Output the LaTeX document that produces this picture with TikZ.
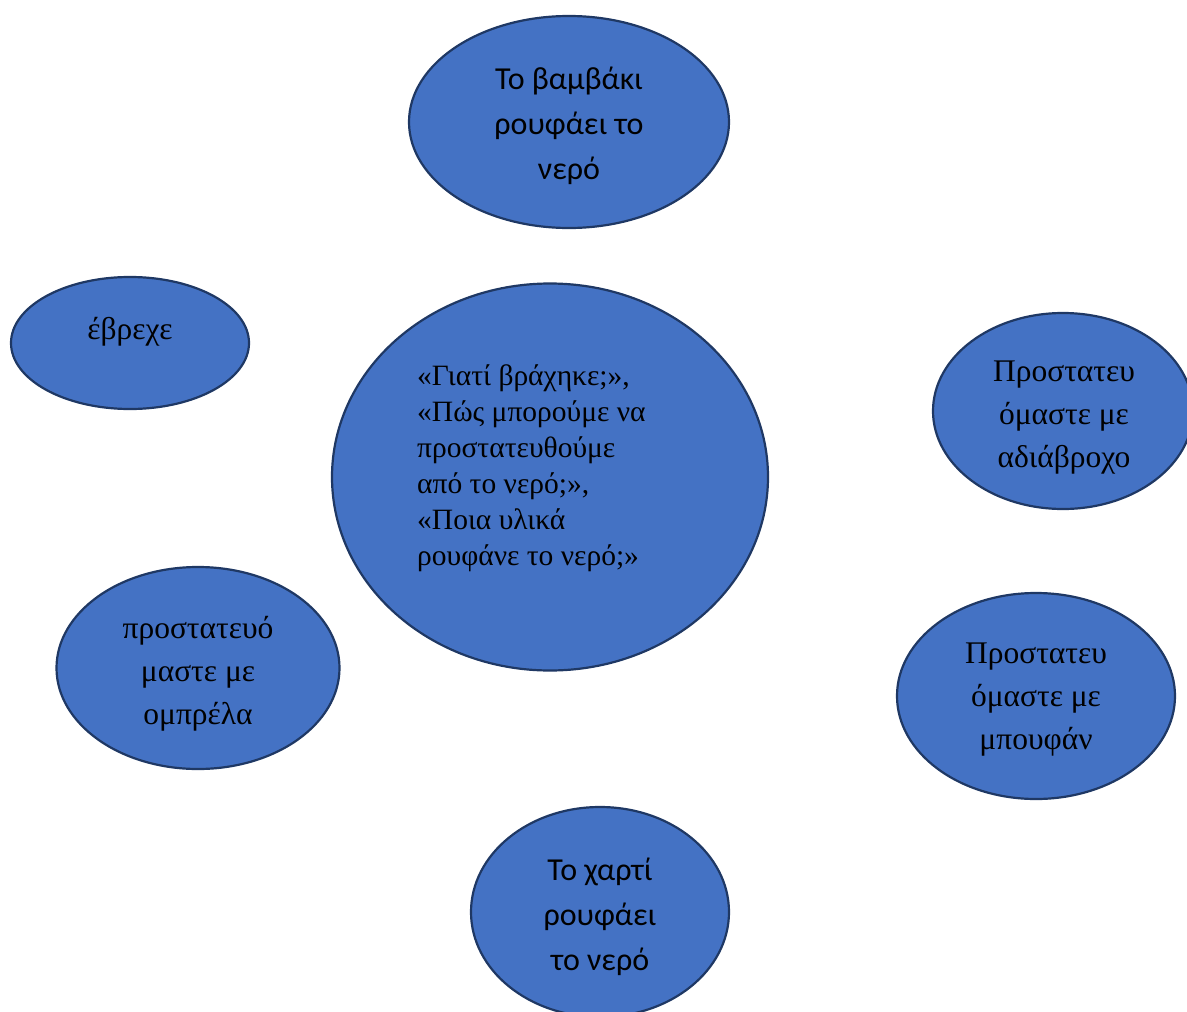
\documentclass[tikz,border=0pt]{standalone}
\usepackage{fontspec}
\newfontfamily\sansgr{Carlito}
\newfontfamily\serifgr{Liberation Serif}
\usetikzlibrary{shapes.geometric}
\definecolor{ellfill}{HTML}{4472C4}
\definecolor{elldraw}{HTML}{1F3864}
\tikzset{
  bubble/.style={ellipse, fill=ellfill, draw=elldraw, line width=2.2pt, inner sep=0pt},
  sanstext/.style={font=\sansgr\fontsize{32}{45}\selectfont, align=center, text=black, inner sep=0pt},
  seriftext/.style={font=\serifgr\fontsize{31.5}{43}\selectfont, align=center, text=black, inner sep=0pt},
  centertext/.style={font=\serifgr\fontsize{29.5}{36}\selectfont, align=left, text=black, inner sep=0pt}
}
\begin{document}
\begin{tikzpicture}[x=1pt,y=-1pt]
\useasboundingbox (0,0) rectangle (1187,1012);
\begin{scope}
\clip (0,0) rectangle (1187,1012);
\node[bubble, minimum width=320pt, minimum height=212pt] (top) at (569,122) {};
\node[bubble, minimum width=238pt, minimum height=132pt] (rain) at (130,343) {};
\node[bubble, minimum width=436pt, minimum height=387pt] (center) at (550,477) {};
\node[bubble, minimum width=260pt, minimum height=196pt] (rtop) at (1063,411) {};
\node[bubble, minimum width=283pt, minimum height=202pt] (lbot) at (198,668) {};
\node[bubble, minimum width=278pt, minimum height=206pt] (rbot) at (1036,696) {};
\node[bubble, minimum width=258pt, minimum height=210pt] (bot) at (600,912) {};
\end{scope}
\node[sanstext] (ttop) at (569,126) {Το βαμβάκι\\ρουφάει το\\νερό};
\node[seriftext] (train) at (130,332) {έβρεχε};
\node[centertext, anchor=west] (tcenter) at (417,468) {«Γιατί βράχηκε;»,\\«Πώς μπορούμε να\\προστατευθούμε\\από το νερό;»,\\«Ποια υλικά\\ρουφάνε το νερό;»};
\node[seriftext] (trtop) at (1064,418) {Προστατευ\\όμαστε με\\αδιάβροχο};
\node[seriftext] (tlbot) at (198,674) {προστατευό\\μαστε με\\ομπρέλα};
\node[seriftext] (trbot) at (1036,700) {Προστατευ\\όμαστε με\\μπουφάν};
\node[sanstext] (tbot) at (600,917) {Το χαρτί\\ρουφάει\\το νερό};
\end{tikzpicture}
\end{document}
